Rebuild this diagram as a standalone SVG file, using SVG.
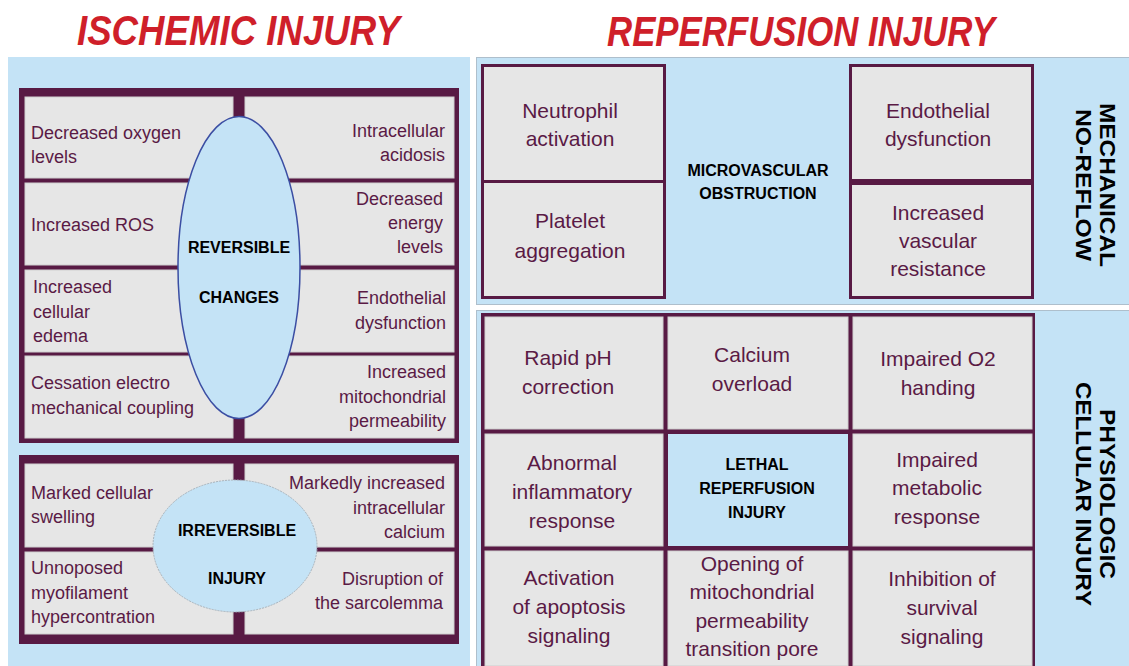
<svg xmlns="http://www.w3.org/2000/svg" width="1129" height="666" viewBox="0 0 1129 666">
  <style>
    .bg { fill: #c4e3f6; }
    .panel { fill: #c4e3f6; stroke: #aebfcc; stroke-width: 1; }
    .frame { fill: #581a44; }
    .cell { fill: #e6e6e6; stroke: #cfcfcf; stroke-width: 1; }
    .lcell { fill: #c4e3f6; }
    .box { fill: #e6e6e6; stroke: #581a44; stroke-width: 3; }
    .t { font-family: "Liberation Sans", Arial, sans-serif; font-size: 18px; fill: #5a1a45; }
    .end { text-anchor: end; }
    .r { font-size: 21px; text-anchor: middle; }
    .b { font-family: "Liberation Sans", Arial, sans-serif; font-weight: bold; font-size: 16px; fill: #000; text-anchor: middle; }
    .v { font-family: "Liberation Sans", Arial, sans-serif; font-weight: bold; font-size: 22px; fill: #000; text-anchor: middle; }
    .title { font-family: "Liberation Sans", Arial, sans-serif; font-weight: bold; font-style: italic; font-size: 42px; fill: #cf1f2a; }
  </style>

  <!-- headings -->
  <g id="titles">
    <text class="title" x="77" y="45" textLength="323" lengthAdjust="spacingAndGlyphs">ISCHEMIC INJURY</text>
    <text class="title" x="607" y="46" textLength="388" lengthAdjust="spacingAndGlyphs">REPERFUSION INJURY</text>
  </g>

  <!-- backgrounds of the three panels -->
  <g id="panels">
    <rect class="bg" x="8" y="57" width="462" height="609"/>
    <rect class="panel" x="476.5" y="57.5" width="653" height="247"/>
    <rect class="panel" x="476.5" y="310.5" width="653" height="356"/>
  </g>

  <!-- ischemic: reversible changes -->
  <g id="reversible">
    <rect class="frame" x="19" y="88" width="440" height="355"/>
    <rect class="cell" x="25" y="97" width="208" height="81"/>
    <rect class="cell" x="245" y="97" width="209" height="81"/>
    <rect class="cell" x="25" y="183" width="208" height="82"/>
    <rect class="cell" x="245" y="183" width="209" height="82"/>
    <rect class="cell" x="25" y="270" width="208" height="82"/>
    <rect class="cell" x="245" y="270" width="209" height="82"/>
    <rect class="cell" x="25" y="356" width="208" height="82"/>
    <rect class="cell" x="245" y="356" width="209" height="82"/>
    <ellipse cx="239" cy="267.5" rx="61" ry="151" fill="#c4e3f6" stroke="#3b4ea3" stroke-width="1.5"/>

    <text class="t" x="31" y="139">Decreased oxygen</text>
    <text class="t" x="31" y="163">levels</text>
    <text class="t end" x="445" y="137">Intracellular</text>
    <text class="t end" x="445" y="161">acidosis</text>
    <text class="t" x="31" y="231">Increased ROS</text>
    <text class="t end" x="443" y="205">Decreased</text>
    <text class="t end" x="443" y="229">energy</text>
    <text class="t end" x="443" y="253">levels</text>
    <text class="t" x="33" y="293">Increased</text>
    <text class="t" x="33" y="318">cellular</text>
    <text class="t" x="33" y="342">edema</text>
    <text class="t end" x="446" y="304">Endothelial</text>
    <text class="t end" x="446" y="329">dysfunction</text>
    <text class="t" x="31" y="389">Cessation electro</text>
    <text class="t" x="31" y="414">mechanical coupling</text>
    <text class="t end" x="446" y="378">Increased</text>
    <text class="t end" x="446" y="403">mitochondrial</text>
    <text class="t end" x="446" y="427">permeability</text>

    <text class="b" x="239" y="253">REVERSIBLE</text>
    <text class="b" x="239" y="303">CHANGES</text>
  </g>

  <!-- ischemic: irreversible injury -->
  <g id="irreversible">
    <rect class="frame" x="19" y="455" width="440" height="189"/>
    <rect class="cell" x="25" y="464" width="208" height="83"/>
    <rect class="cell" x="245" y="464" width="209" height="83"/>
    <rect class="cell" x="25" y="552" width="208" height="82"/>
    <rect class="cell" x="245" y="552" width="209" height="82"/>
    <ellipse cx="235" cy="546" rx="82" ry="66" fill="#c4e3f6" stroke="#a9b3bb" stroke-width="1" stroke-dasharray="2 1"/>

    <text class="t" x="31" y="499">Marked cellular</text>
    <text class="t" x="31" y="523">swelling</text>
    <text class="t end" x="445" y="489">Markedly increased</text>
    <text class="t end" x="445" y="514">intracellular</text>
    <text class="t end" x="445" y="538">calcium</text>
    <text class="t" x="31" y="574">Unnoposed</text>
    <text class="t" x="31" y="599">myofilament</text>
    <text class="t" x="31" y="623">hypercontration</text>
    <text class="t end" x="443" y="585">Disruption of</text>
    <text class="t end" x="443" y="609">the sarcolemma</text>

    <text class="b" x="237" y="536">IRREVERSIBLE</text>
    <text class="b" x="237" y="584">INJURY</text>
  </g>

  <!-- reperfusion: microvascular obstruction -->
  <g id="microvascular">
    <rect class="box" x="482.5" y="65.5" width="182" height="116"/>
    <rect class="box" x="482.5" y="181.5" width="182" height="116"/>
    <rect class="box" x="850.5" y="65.5" width="182" height="232"/>
    <rect class="frame" x="850" y="179" width="184" height="6"/>

    <text class="t r" x="570" y="118">Neutrophil</text>
    <text class="t r" x="570" y="146">activation</text>
    <text class="t r" x="570" y="228">Platelet</text>
    <text class="t r" x="570" y="258">aggregation</text>
    <text class="t r" x="938" y="118">Endothelial</text>
    <text class="t r" x="938" y="146">dysfunction</text>
    <text class="t r" x="938" y="220">Increased</text>
    <text class="t r" x="938" y="248">vascular</text>
    <text class="t r" x="938" y="276">resistance</text>

    <text class="b" x="758" y="176">MICROVASCULAR</text>
    <text class="b" x="758" y="199">OBSTRUCTION</text>

    <text class="v" transform="translate(1100,185) rotate(90)" textLength="164" lengthAdjust="spacingAndGlyphs">MECHANICAL</text>
    <text class="v" transform="translate(1076,185) rotate(90)" textLength="152" lengthAdjust="spacingAndGlyphs">NO-REFLOW</text>
  </g>

  <!-- reperfusion: lethal reperfusion injury grid -->
  <g id="lethal">
    <rect class="frame" x="481" y="313" width="554" height="353"/>
    <rect class="cell" x="485" y="317" width="178" height="112"/>
    <rect class="cell" x="668" y="317" width="180" height="112"/>
    <rect class="cell" x="853" y="317" width="179" height="112"/>
    <rect class="cell" x="485" y="434" width="178" height="112"/>
    <rect class="lcell" x="668" y="434" width="180" height="112"/>
    <rect class="cell" x="853" y="434" width="179" height="112"/>
    <rect class="cell" x="485" y="551" width="178" height="115"/>
    <rect class="cell" x="668" y="551" width="180" height="115"/>
    <rect class="cell" x="853" y="551" width="179" height="115"/>

    <text class="t r" x="568" y="365">Rapid pH</text>
    <text class="t r" x="568" y="394">correction</text>
    <text class="t r" x="752" y="362">Calcium</text>
    <text class="t r" x="752" y="391">overload</text>
    <text class="t r" x="938" y="366">Impaired O2</text>
    <text class="t r" x="938" y="395">handing</text>
    <text class="t r" x="572" y="470">Abnormal</text>
    <text class="t r" x="572" y="499">inflammatory</text>
    <text class="t r" x="572" y="528">response</text>
    <text class="t r" x="937" y="467">Impaired</text>
    <text class="t r" x="937" y="495">metabolic</text>
    <text class="t r" x="937" y="524">response</text>
    <text class="t r" x="569" y="585">Activation</text>
    <text class="t r" x="569" y="614">of apoptosis</text>
    <text class="t r" x="569" y="643">signaling</text>
    <text class="t r" x="752" y="571">Opening of</text>
    <text class="t r" x="752" y="599">mitochondrial</text>
    <text class="t r" x="752" y="628">permeability</text>
    <text class="t r" x="752" y="656">transition pore</text>
    <text class="t r" x="942" y="586">Inhibition of</text>
    <text class="t r" x="942" y="615">survival</text>
    <text class="t r" x="942" y="644">signaling</text>

    <text class="b" x="757" y="470">LETHAL</text>
    <text class="b" x="757" y="494">REPERFUSION</text>
    <text class="b" x="757" y="518">INJURY</text>

    <text class="v" transform="translate(1100,494) rotate(90)" textLength="170" lengthAdjust="spacingAndGlyphs">PHYSIOLOGIC</text>
    <text class="v" transform="translate(1076,494) rotate(90)" textLength="224" lengthAdjust="spacingAndGlyphs">CELLULAR INJURY</text>
  </g>
</svg>
